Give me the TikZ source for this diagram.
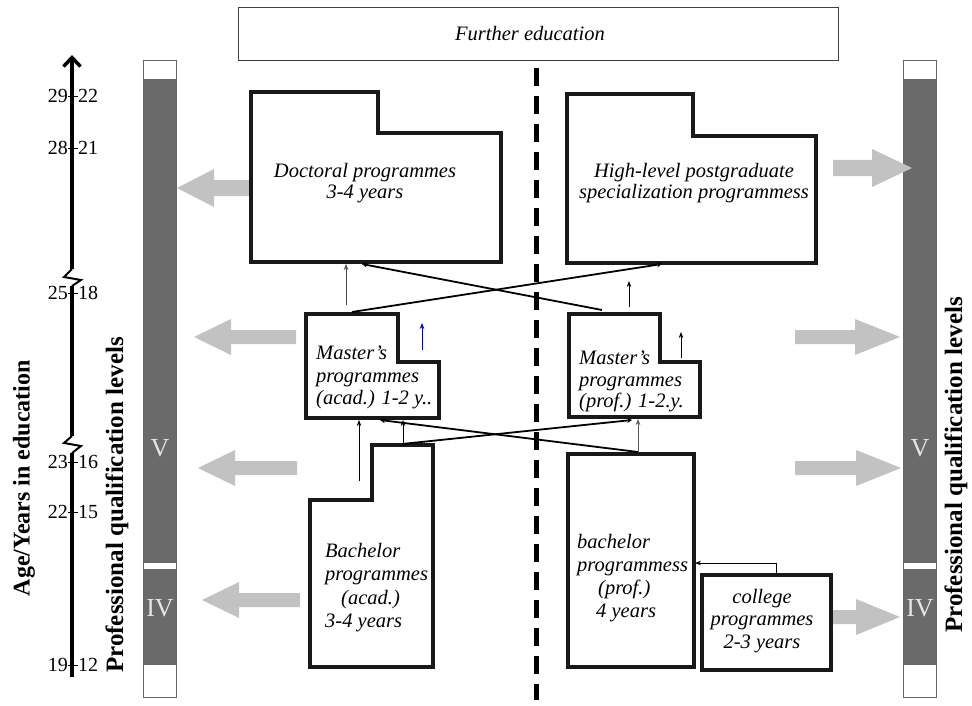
\documentclass[tikz,border=0pt]{standalone}
\usepackage{fontspec}
\setmainfont{Liberation Serif}
\usetikzlibrary{arrows.meta}
\definecolor{arrowgray}{HTML}{C2C2C2}
\definecolor{bargray}{HTML}{6A6A6A}
\newcommand\garrow[6]{\fill[arrowgray] (#1,#4) -- (#2,#4-#5) -- (#2,#4-#6) -- (#3,#4-#6) -- (#3,#4+#6) -- (#2,#4+#6) -- (#2,#4+#5) -- cycle;}
\begin{document}
\begin{tikzpicture}[x=1pt,y=-1pt,
  boxline/.style={line width=3.2pt, line join=miter, draw=black!90},
  itl/.style={font=\itshape\fontsize{20.5}{#1}\selectfont, inner sep=0pt},
  num/.style={font=\fontsize{20}{22}\selectfont, inner sep=0pt},
  lab/.style={font=\bfseries\fontsize{#1}{26}\selectfont, inner sep=0pt, rotate=90},
  roman/.style={font=\fontsize{26}{28}\selectfont, text=white!90!black, inner sep=0pt},
  conn/.style={line width=0.7pt, -{Stealth[length=6pt,width=4.5pt]}},
  crossl/.style={line width=1.8pt, -{Stealth[length=5pt,width=5pt,line width=0.4pt]}},
  thinline/.style={line width=0.6pt}
]
\useasboundingbox (0,0) rectangle (972,706);

% further education
\node[draw=black!75, line width=0.8pt, minimum width=600pt, minimum height=53pt, inner sep=0pt] (fe) at (538,33.5) {};
\node[itl=22] (fetxt) at (530,34) {Further education};

% axis
\coordinate (ax0) at (72,677);
\coordinate (ax1) at (72,55);
\draw[line width=3.5pt] (ax0) -- (72,453);
\draw[line width=2pt, line join=miter] (72,436) -- (64,443) -- (81,446) -- (72,453);
\draw[line width=3.5pt] (72,436) -- (72,286);
\draw[line width=2pt, line join=miter] (72,269) -- (64,277) -- (81,280) -- (72,286);
\draw[line width=3.5pt, -{Straight Barb[length=9pt,width=17pt]}] (72,269) -- (ax1);

\foreach \l/\r/\yy/\nm in {29/22/96/a,28/21/148/b,25/18/293/c,23/16/462/d,22/15/512/e,19/12/665/f}{
  \node[num, anchor=east] (nl\nm) at (68,\yy) {\l};
  \node[num, anchor=west] (nr\nm) at (78,\yy) {\r};
  \draw[thinline] (nl\nm.east) -- (nr\nm.west);
}

% vertical labels
\node[lab=24] (agelab) at (24,478) {Age/Years in education};
\node[lab=25] (pqll) at (117,505) {Professional qualification levels};
\node[lab=25] (pqlr) at (956,465) {Professional qualification levels};

% bars
\foreach \bx in {143,903}{
  \fill[bargray] (\bx,79) rectangle (\bx+33,563);
  \fill[bargray] (\bx,569) rectangle (\bx+33,665);
  \draw[black!60, line width=0.6pt] (\bx,60) rectangle (\bx+33,697);
}
\node[roman] (vl) at (160,448) {V};
\node[roman] (ivl) at (160,608) {IV};
\node[roman] (vr) at (920,448) {V};
\node[roman] (ivr) at (920,608) {IV};

% gray block arrows
\garrow{177}{214}{251}{188}{19}{8}
\garrow{194}{231}{296}{337}{18}{7}
\garrow{198}{235}{297}{468}{18}{7}
\garrow{202}{239}{300}{600}{18}{7}
\garrow{912}{872}{833}{168}{19}{8}
\garrow{900}{855}{795}{337}{18}{7}
\garrow{901}{856}{795}{468}{18}{7}
\garrow{900}{856}{831}{617}{18}{7}

% dashed divider
\coordinate (dtop) at (536,68);
\coordinate (dbot) at (536,700);
\draw[line width=5pt, dash pattern=on 18pt off 10pt] (dtop) -- (dbot);

% boxes
\draw[boxline] (251,92) -- (378,92) -- (378,133) -- (501,133) -- (501,262) -- (251,262) -- cycle;
\draw[boxline] (567,94) -- (693,94) -- (693,136) -- (816,136) -- (816,263) -- (567,263) -- cycle;
\draw[boxline] (306,314) -- (398,314) -- (398,362) -- (439,362) -- (439,418) -- (306,418) -- cycle;
\draw[boxline] (569,314) -- (660,314) -- (660,362) -- (700,362) -- (700,417) -- (569,417) -- cycle;
\draw[boxline] (372,445) -- (433,445) -- (433,667) -- (310,667) -- (310,500) -- (372,500) -- cycle;
\draw[boxline] (568,454) rectangle (694,667);
\draw[boxline] (702,575) rectangle (831,670);

% texts
\node[itl=21, align=center] (doctxt) at (365,183) {Doctoral programmes\\3-4 years};
\node[itl=21, align=center] (hltxt) at (694,183) {High-level postgraduate\\specialization programmess};
\node[itl=22.5, align=left, anchor=north west] (matxt) at (316,346) {Master’s\\programmes\\(acad.) 1-2 y..};
\node[itl=21.5, align=left, anchor=north west] (mptxt) at (579,351) {Master’s\\programmes\\(prof.) 1-2.y.};
\node[itl=23.3, align=left, anchor=north west] (batxt) at (325,543) {Bachelor\\programmes\\\hspace*{16pt}(acad.)\\3-4 years};
\node[itl=23, align=left, anchor=north west] (bptxt) at (577,534) {bachelor\\programmess\\\hspace*{21pt}(prof.)\\\hspace*{19pt}4 years};
\node[itl=22.5, align=center] (coltxt) at (762,621) {college\\programmes\\2-3 years};

% connector coordinates
\coordinate (blueS) at (422,350); \coordinate (blueE) at (422,323);
\coordinate (maUp) at (346,305);  \coordinate (docDn) at (346,264);
\coordinate (mpUp) at (629,307);  \coordinate (hlDn) at (629,281);
\coordinate (mpInS) at (681,358); \coordinate (mpInE) at (681,332);
\coordinate (baUp1) at (359,481); \coordinate (maDn1) at (359,420);
\coordinate (baUp2) at (403,444); \coordinate (maDn2) at (403,420);
\coordinate (bpUp) at (638,453);  \coordinate (mpDn) at (638,419);
\coordinate (colUp) at (776,575); \coordinate (colBend) at (776,563); \coordinate (bpRt) at (695,563);
\coordinate (maTop) at (352,312); \coordinate (hlBot) at (662,264);
\coordinate (mpTop) at (602,310); \coordinate (docBot) at (362,264);
\coordinate (baTop) at (402,444); \coordinate (mpBot) at (632,420);
\coordinate (bpTop) at (638,452); \coordinate (maBot) at (380,420);

\draw[conn, draw=blue!75!black] (blueS) -- (blueE);
\draw[conn, draw=black!70] (maUp) -- (docDn);
\draw[conn] (mpUp) -- (hlDn);
\draw[conn] (mpInS) -- (mpInE);
\draw[conn] (baUp1) -- (maDn1);
\draw[conn] (baUp2) -- (maDn2);
\draw[conn, draw=black!65] (bpUp) -- (mpDn);
\draw[conn] (colUp) -- (colBend) -- (bpRt);
\draw[crossl] (maTop) -- (hlBot);
\draw[crossl] (mpTop) -- (docBot);
\draw[crossl] (baTop) -- (mpBot);
\draw[crossl] (bpTop) -- (maBot);
\end{tikzpicture}
\end{document}
